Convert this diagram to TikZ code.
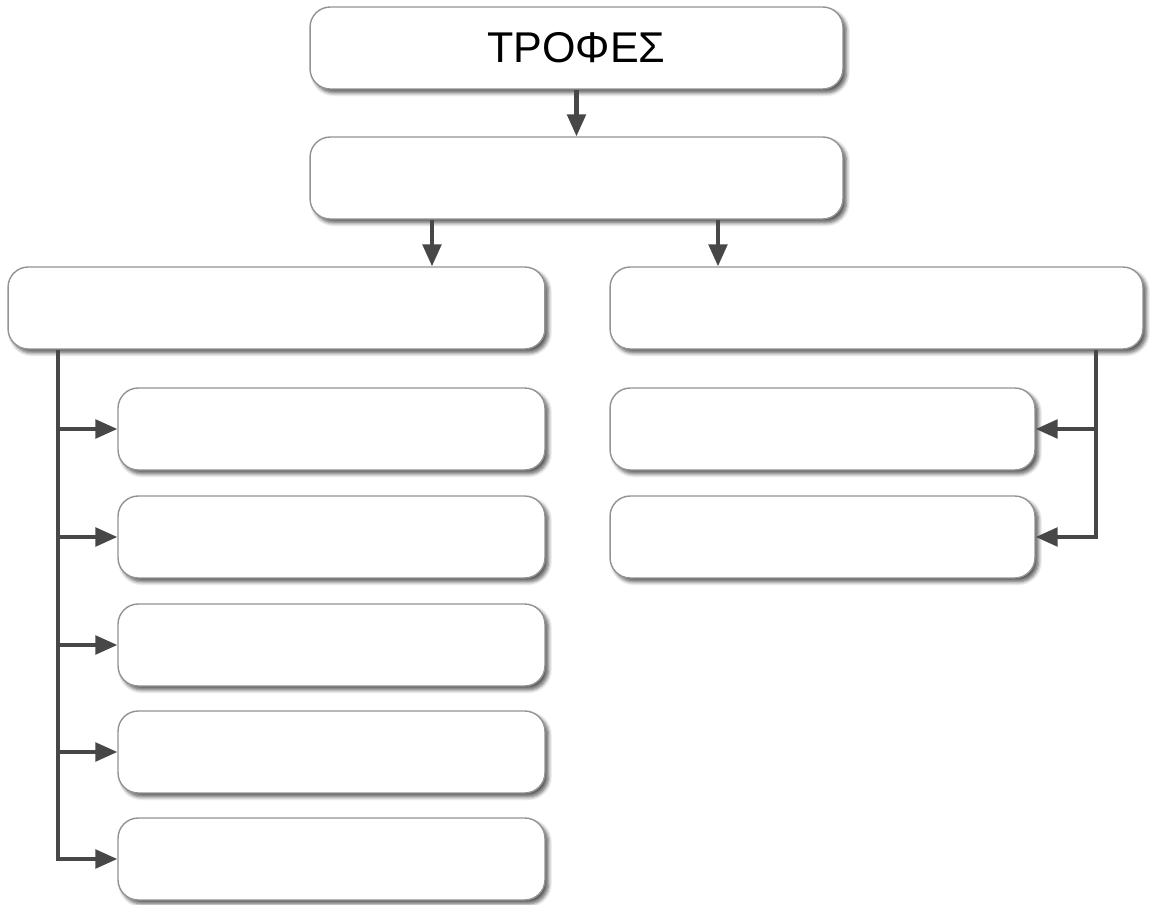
\documentclass[tikz,border=0pt]{standalone}
\usepackage{fontspec}
\setmainfont{Liberation Sans}
\usetikzlibrary{arrows.meta,shadows.blur}

\tikzset{
  caja/.style={draw=gray!85, line width=0.8pt, fill=white, rounded corners=11.5pt,
    minimum height=1.64cm, inner sep=0pt,
    blur shadow={shadow xshift=2pt, shadow yshift=-2.2pt, shadow blur steps=6, shadow opacity=65}},
  flecha/.style={draw=black!72, line width=2.3pt, -{Triangle[length=12.5pt,width=10.5pt]}},
}

\begin{document}
\begin{tikzpicture}[x=0.02cm, y=-0.02cm]

\useasboundingbox (0,0) rectangle (1150,905);

% =============================================
% NIVELES SUPERIORES
% =============================================
\node[caja, minimum width=10.66cm, font=\fontsize{24.5}{28}\selectfont] (trofes) at (576.5,48) {ΤΡΟΦΕΣ};
\node[caja, minimum width=10.66cm] (segundo) at (576.5,178) {};

% Ramas principales
\node[caja, minimum width=10.74cm] (izq) at (276.5,308) {};
\node[caja, minimum width=10.66cm] (der) at (876.5,308) {};

% =============================================
% SUBCAJAS IZQUIERDAS Y DERECHAS
% =============================================
\foreach \i/\y in {1/429, 2/537, 3/645, 4/752, 5/859} {
    \node[caja, minimum width=8.54cm] (izq\i) at (331.5,\y) {};
}
\foreach \i/\y in {1/429, 2/537} {
    \node[caja, minimum width=8.5cm] (der\i) at (822.5,\y) {};
}

% =============================================
% CONECTORES
% =============================================
\draw[flecha] (trofes.south) -- (segundo.north);
\draw[flecha] (segundo.south -| 432,0) -- (izq.north -| 432,0);
\draw[flecha] (segundo.south -| 718,0) -- (der.north -| 718,0);

% Tronco izquierdo
\draw[flecha] (izq.south -| 58,0) |- (izq5.west);
\foreach \i in {1,...,4} {
    \draw[flecha] (izq\i.west -| 58,0) -- (izq\i.west);
}

% Tronco derecho
\draw[flecha] (der.south -| 1096,0) |- (der2.east);
\draw[flecha] (der1.east -| 1096,0) -- (der1.east);

\end{tikzpicture}
\end{document}
